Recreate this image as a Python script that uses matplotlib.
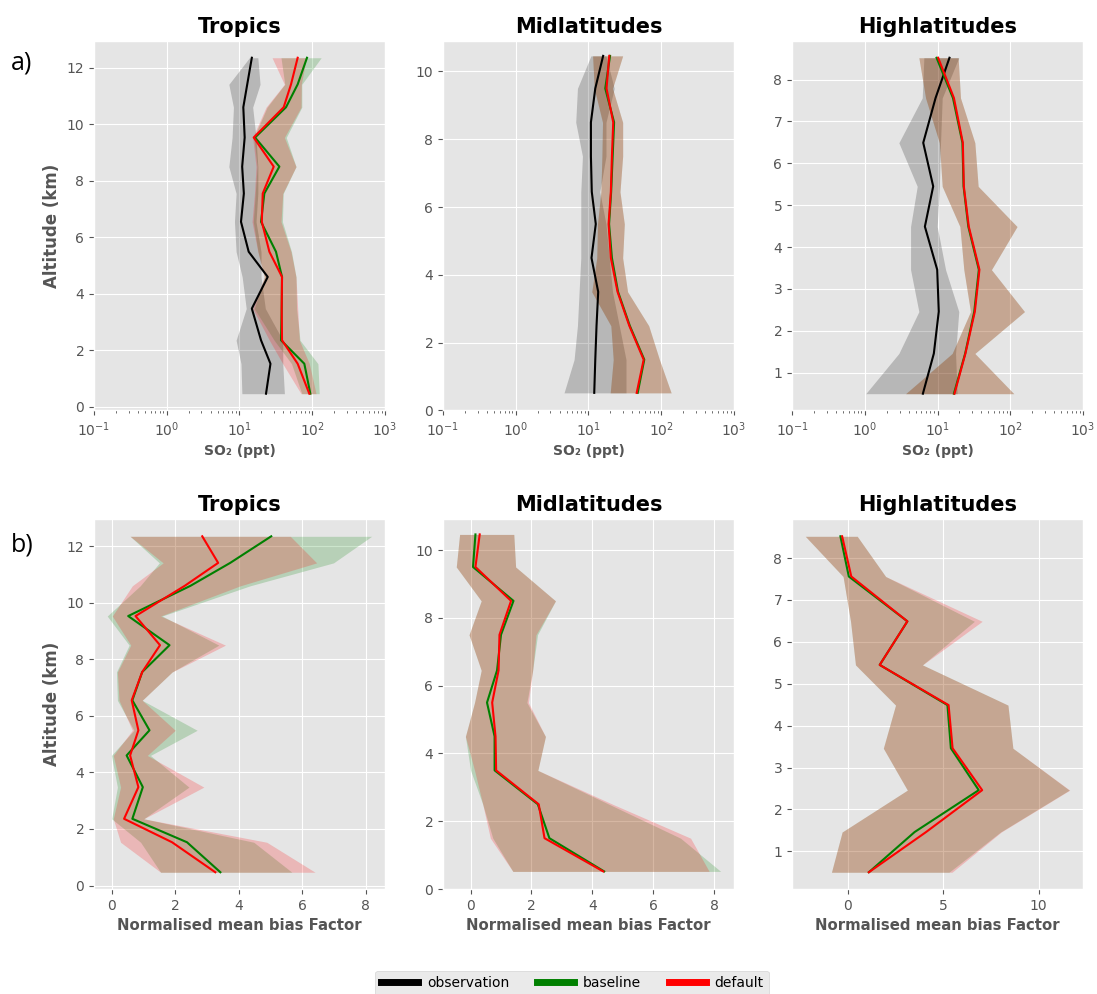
import numpy as np
import matplotlib
matplotlib.use("Agg")
import matplotlib.pyplot as plt
from matplotlib.lines import Line2D
from matplotlib.ticker import MultipleLocator

plt.style.use("ggplot")

# ---- altitudes (km), bottom to top ----
alt_trop = [0.47, 1.53, 2.36, 3.48, 4.6, 5.49, 6.55, 7.55, 8.5, 9.53, 10.6, 11.41, 12.35]
alt_mid = [0.52, 1.5, 2.5, 3.5, 4.5, 5.5, 6.45, 7.5, 8.5, 9.5, 10.46]
alt_high = [0.5, 1.46, 2.46, 3.46, 4.49, 5.45, 6.49, 7.56, 8.52]

# ---- a) SO2 (ppt) ----
# Tropics
so2_trop_obs = [23.2, 26.7, 19.8, 14.8, 24.5, 13.4, 10.5, 11.5, 10.9, 11.8, 11.3, 12.8, 14.8]
so2_trop_obs_lo = [10.8, 10.5, 9.0, 12.4, 10.9, 9.0, 8.54, 9.0, 7.15, 7.92, 8.27, 7.15, 13.7]
so2_trop_obs_hi = [41.5, 39.4, 39.4, 22.7, 19.8, 19.8, 16.9, 17.9, 17.9, 16.9, 15.2, 19.2, 17.9]
so2_trop_base = [94.4, 78.0, 37.3, 38.1, 38.5, 31.8, 19.8, 22.0, 35.4, 16.4, 43.7, 63.2, 84.9]
so2_trop_base_lo = [72, 52, 30, 16, 22, 18, 15.5, 16.5, 17.5, 15.8, 24, 42, 37.3]
so2_trop_base_hi = [125, 120, 68, 61, 60, 52, 39, 40, 60, 44, 72, 72, 133]
so2_trop_def = [91.4, 63.2, 38.5, 38.1, 38.5, 25.8, 20.3, 20.9, 29.6, 15.7, 40.6, 51.2, 63.2]
so2_trop_def_lo = [70.3, 39.4, 25.8, 15.2, 22.0, 17.9, 14.9, 16.1, 16.9, 15.2, 23.2, 41.5, 28.1]
so2_trop_def_hi = [113, 91.4, 66.7, 63.2, 59.9, 51.2, 37.3, 39.4, 59.9, 41.5, 70.3, 70.9, 83.2]

# Midlatitudes
so2_mid_obs = [12.0, 12.4, 12.9, 13.6, 11.0, 12.6, 11.1, 10.8, 10.8, 12.4, 15.9]
so2_mid_obs_lo = [4.61, 6.34, 7.05, 7.43, 7.84, 7.84, 7.84, 8.26, 6.68, 7.05, 10.8]
so2_mid_obs_hi = [32.8, 32.8, 26.5, 21.4, 19.3, 17.4, 14.3, 17.4, 17.4, 22.6, 17.4]
so2_mid_base = [47.5, 58.5, 37.0, 25.5, 21.0, 19.2, 20.5, 21.5, 22.5, 17.0, 19.8]
so2_mid_base_lo = [19.9, 21.9, 20.3, 11.1, 13.0, 13.3, 14.8, 15.3, 15.6, 12.0, 11.4]
so2_mid_base_hi = [137, 94.6, 67.3, 34.5, 29.5, 31.1, 27.1, 29.5, 29.5, 21.4, 29.5]
so2_mid_def = [46.0, 57.4, 36.4, 25.1, 20.3, 18.9, 20.3, 21.0, 21.9, 17.7, 19.3]
so2_mid_def_lo = [19.9, 21.9, 20.3, 11.1, 13.0, 13.3, 14.8, 15.3, 15.6, 12.0, 11.4]
so2_mid_def_hi = [137, 94.6, 67.3, 34.5, 29.5, 31.1, 27.1, 29.5, 29.5, 21.4, 29.5]

# Highlatitudes
so2_high_obs = [6.29, 8.9, 10.4, 9.9, 6.70, 8.72, 6.36, 9.4, 14.6]
so2_high_obs_lo = [1.03, 2.94, 5.54, 4.26, 4.26, 5.26, 2.94, 6.16, 6.49]
so2_high_obs_hi = [18.6, 17.7, 19.6, 12.9, 9.9, 10.6, 11.0, 11.6, 19.6]
so2_high_base = [16.8, 24.0, 32.0, 37.0, 26.5, 22.8, 22.0, 16.3, 9.7]
so2_high_base_lo = [3.64, 15.9, 28.4, 23.0, 20.3, 11.6, 10.6, 6.85, 5.54]
so2_high_base_hi = [112, 32.6, 157, 55.1, 124, 36.2, 32.6, 20.7, 19.2]
so2_high_def = [17.1, 24.2, 32.6, 37.7, 26.9, 23.0, 22.3, 16.8, 10.2]
so2_high_def_lo = [3.64, 15.9, 28.4, 23.0, 20.3, 11.6, 10.6, 6.85, 5.54]
so2_high_def_hi = [112, 32.6, 157, 55.1, 124, 36.2, 32.6, 20.7, 19.2]

# ---- b) normalised mean bias factor ----
nmbf_trop_base = [3.42, 2.37, 0.65, 0.98, 0.47, 1.19, 0.65, 0.96, 1.82, 0.52, 2.48, 3.73, 5.02]
nmbf_trop_base_lo = [1.54, 0.91, 0.0, 0.18, -0.01, 0.7, 0.18, 0.15, 0.55, -0.14, 0.9, 1.5, 0.58]
nmbf_trop_base_hi = [5.67, 4.47, 1.01, 2.43, 1.22, 2.69, 0.96, 1.9, 3.37, 1.59, 4.36, 6.98, 8.18]
nmbf_trop_def = [3.26, 1.90, 0.39, 0.84, 0.58, 0.84, 0.63, 0.96, 1.52, 0.75, 2.3, 3.35, 2.85]
nmbf_trop_def_lo = [1.54, 0.28, 0.05, 0.28, 0.05, 0.65, 0.23, 0.18, 0.6, 0.02, 0.65, 1.62, 0.58]
nmbf_trop_def_hi = [6.4, 4.88, 1.01, 2.9, 1.12, 2.0, 0.96, 1.9, 3.58, 1.54, 4.05, 6.45, 5.62]

nmbf_mid_base = [4.39, 2.59, 2.21, 0.79, 0.79, 0.54, 0.87, 1.0, 1.41, 0.08, 0.16]
nmbf_mid_base_lo = [1.39, 0.73, 0.4, 0.0, -0.17, 0.13, 0.35, -0.05, 0.35, -0.47, -0.36]
nmbf_mid_base_hi = [8.22, 6.9, 4.55, 2.21, 2.46, 1.85, 2.04, 2.2, 2.79, 1.48, 1.42]
nmbf_mid_def = [4.36, 2.43, 2.24, 0.84, 0.82, 0.71, 0.92, 0.95, 1.33, 0.16, 0.3]
nmbf_mid_def_lo = [1.39, 0.65, 0.4, 0.13, -0.17, 0.13, 0.35, -0.05, 0.35, -0.47, -0.36]
nmbf_mid_def_hi = [7.84, 7.23, 4.67, 2.21, 2.46, 1.9, 2.04, 2.15, 2.79, 1.48, 1.42]

nmbf_high_base = [1.1, 3.5, 6.86, 5.4, 5.22, 1.67, 3.12, 0.05, -0.39]
nmbf_high_base_lo = [-0.86, -0.3, 3.12, 1.86, 2.5, 0.4, 0.14, -0.25, -2.23]
nmbf_high_base_hi = [5.3, 8.0, 11.6, 8.65, 8.39, 3.91, 6.63, 1.98, 0.49]
nmbf_high_def = [1.1, 4.1, 7.04, 5.49, 5.28, 1.67, 3.12, 0.18, -0.3]
nmbf_high_def_lo = [-0.86, -0.3, 3.12, 1.86, 2.5, 0.4, 0.14, -0.25, -2.23]
nmbf_high_def_hi = [5.46, 8.04, 11.63, 8.65, 8.39, 3.91, 7.04, 1.98, 0.49]

regions = ["Tropics", "Midlatitudes", "Highlatitudes"]
alts = [alt_trop, alt_mid, alt_high]

top_data = [
    [(so2_trop_obs, so2_trop_obs_lo, so2_trop_obs_hi),
     (so2_trop_base, so2_trop_base_lo, so2_trop_base_hi),
     (so2_trop_def, so2_trop_def_lo, so2_trop_def_hi)],
    [(so2_mid_obs, so2_mid_obs_lo, so2_mid_obs_hi),
     (so2_mid_base, so2_mid_base_lo, so2_mid_base_hi),
     (so2_mid_def, so2_mid_def_lo, so2_mid_def_hi)],
    [(so2_high_obs, so2_high_obs_lo, so2_high_obs_hi),
     (so2_high_base, so2_high_base_lo, so2_high_base_hi),
     (so2_high_def, so2_high_def_lo, so2_high_def_hi)],
]
bottom_data = [
    [None,
     (nmbf_trop_base, nmbf_trop_base_lo, nmbf_trop_base_hi),
     (nmbf_trop_def, nmbf_trop_def_lo, nmbf_trop_def_hi)],
    [None,
     (nmbf_mid_base, nmbf_mid_base_lo, nmbf_mid_base_hi),
     (nmbf_mid_def, nmbf_mid_def_lo, nmbf_mid_def_hi)],
    [None,
     (nmbf_high_base, nmbf_high_base_lo, nmbf_high_base_hi),
     (nmbf_high_def, nmbf_high_def_lo, nmbf_high_def_hi)],
]
colors = ["black", "green", "red"]
labels = ["observation", "baseline", "default"]

fig, axes = plt.subplots(2, 3, figsize=(10.97, 9.94), dpi=100)
plt.subplots_adjust(left=0.0857, right=0.9872, bottom=0.1056, top=0.9588,
                    wspace=0.2, hspace=0.295)


def draw(ax, alt, series):
    # shaded ranges first, lines on top
    for s, c in zip(series, colors):
        if s is None:
            continue
        ax.fill_betweenx(alt, s[1], s[2], color=c, alpha=0.2, lw=0, zorder=2)
    for s, c in zip(series, colors):
        if s is None:
            continue
        ax.plot(s[0], alt, color=c, lw=1.5, zorder=3)


for j in range(3):
    ax = axes[0, j]
    draw(ax, alts[j], top_data[j])
    ax.set_xscale("log")
    ax.set_xlim(1e-1, 1e3)
    ax.set_title(regions[j], fontsize=15, fontweight="bold", color="black")
    ax.set_xlabel("SO₂ (ppt)", fontsize=10, fontweight="bold", color="#555555")

    ax = axes[1, j]
    draw(ax, alts[j], bottom_data[j])
    ax.set_title(regions[j], fontsize=15, fontweight="bold", color="black")
    ax.set_xlabel("Normalised mean bias Factor", fontsize=10.7, fontweight="bold",
                  color="#555555")

# midlatitude panels start at the ground
axes[0, 1].set_ylim(0, 10.9)
axes[1, 1].set_ylim(0, 10.9)
axes[1, 2].xaxis.set_major_locator(MultipleLocator(5))
for ax in axes.flat:
    ax.tick_params(labelsize=10, colors="#555555")
for i in range(2):
    axes[i, 0].set_ylabel("Altitude (km)", fontsize=12, fontweight="bold", color="#555555")

fig.text(0.02, 1 - 63 / 994, "a)", fontsize=18, family="Open Sans", ha="center", va="center")
fig.text(0.02, 1 - 545 / 994, "b)", fontsize=18, family="Open Sans", ha="center", va="center")

handles = [Line2D([], [], color=c, lw=5) for c in colors]
fig.legend(handles, labels, loc="center", bbox_to_anchor=(0.5216, 0.011), ncol=3,
           fontsize=10, frameon=True, handlelength=2.7, handletextpad=0.6,
           columnspacing=2.0)

fig.savefig("out.png", dpi=100)
